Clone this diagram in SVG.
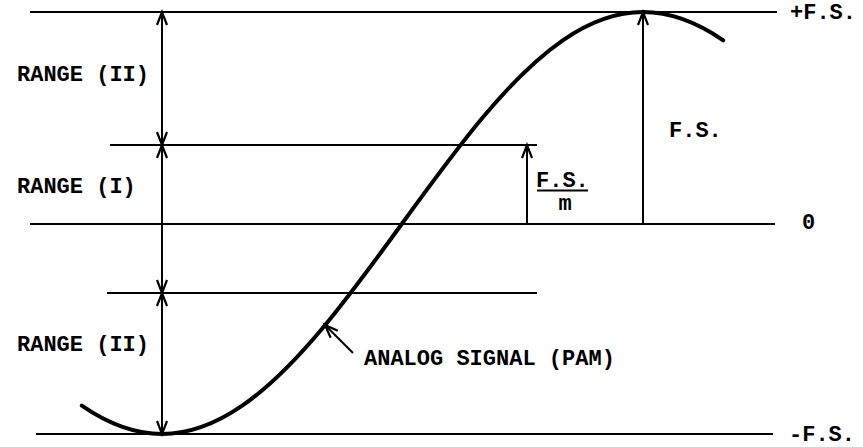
<svg xmlns="http://www.w3.org/2000/svg" width="863" height="447" viewBox="0 0 863 447">
<style>
.ln{stroke:#000;stroke-width:2;fill:none}
.ar{stroke:#000;stroke-width:2;fill:none;marker-end:url(#ah)}
.ar2{stroke:#000;stroke-width:2;fill:none;marker-start:url(#ah);marker-end:url(#ah)}
.sig{stroke:#000;stroke-width:4;fill:none;stroke-linecap:round}
.t{font-family:"Liberation Mono","Courier New",monospace;font-weight:bold;font-size:22px;fill:#000}
</style>
<defs>
<marker id="ah" viewBox="-14 -7 16 14" refX="0" refY="0" markerWidth="16" markerHeight="14" markerUnits="userSpaceOnUse" orient="auto-start-reverse" overflow="visible">
<path d="M-13,-5 L0,0 L-13,5" stroke="#000" stroke-width="2.2" fill="none"/>
</marker>
</defs>
<rect width="863" height="447" fill="#fff"/>
<g id="levels">
<line class="ln" x1="30" y1="12" x2="777" y2="12"/>
<line class="ln" x1="110" y1="145" x2="537" y2="145"/>
<line class="ln" x1="30" y1="224" x2="775" y2="224"/>
<line class="ln" x1="107" y1="293" x2="537" y2="293"/>
<line class="ln" x1="36" y1="434" x2="773" y2="434"/>
</g>
<g id="signal">
<path class="sig" d="M81.8,405.7 C108.5,424.1 135.3,434 162,434 C188.7,434 215.5,424.1 242.2,405.7 C268.9,387.3 295.6,360.4 322.3,328.5 C349,296.6 375.8,259.8 402.5,223 C429.2,186.2 456,149.4 482.7,117.5 C509.4,85.6 536.1,58.7 562.8,40.3 C589.5,21.9 616.3,12 643,12 C669.7,12 696.5,21.9 723.2,40.3"/>
</g>
<g id="connectors">
<line class="ar2" x1="162" y1="145" x2="162" y2="12"/>
<line class="ar2" x1="162" y1="293" x2="162" y2="145"/>
<line class="ar2" x1="162" y1="293" x2="162" y2="434"/>
<line class="ar" x1="527" y1="224" x2="527" y2="145"/>
<line class="ar" x1="643" y1="224" x2="643" y2="12"/>
<line class="ar" x1="353" y1="353" x2="325" y2="325"/>
</g>
<g id="labels">
<text class="t" x="17" y="81">RANGE (II)</text>
<text class="t" x="17" y="193">RANGE (I)</text>
<text class="t" x="17" y="351">RANGE (II)</text>
<text class="t" x="364" y="365">ANALOG SIGNAL (PAM)</text>
<text class="t" x="790" y="19">+F.S.</text>
<text class="t" x="669" y="137">F.S.</text>
<g id="fs-m">
<text class="t" x="536" y="187">F.S.</text>
<line class="ln" x1="537" y1="190.5" x2="588" y2="190.5"/>
<text class="t" x="565" y="210" text-anchor="middle">m</text>
</g>
<text class="t" x="802" y="229">0</text>
<text class="t" x="789" y="441">-F.S.</text>
</g>
</svg>
